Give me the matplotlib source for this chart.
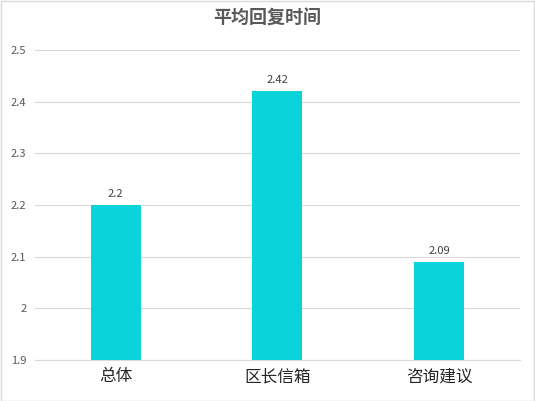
import matplotlib
matplotlib.use("Agg")
import matplotlib.pyplot as plt

plt.rcParams["font.family"] = ["Noto Sans CJK SC", "DejaVu Sans"]

categories = ["总体", "区长信箱", "咨询建议"]
values = [2.2, 2.42, 2.09]
yticks = [1.9, 2, 2.1, 2.2, 2.3, 2.4, 2.5]
ytick_labels = ["1.9", "2", "2.1", "2.2", "2.3", "2.4", "2.5"]

BAR_COLOR = "#0AD3DA"
TEXT_COLOR = "#595959"

fig = plt.figure(figsize=(5.35, 4.01), dpi=100)
ax = fig.add_axes([0.065, 0.102, 0.907, 0.773])

x = range(len(categories))
ax.bar(x, values, width=0.31, color=BAR_COLOR, zorder=3)
for xi, v in zip(x, values):
    ax.text(xi, v + 0.012, f"{v:g}", ha="center", va="bottom",
            fontsize=8, color="#404040")

ax.set_xlim(-0.5, 2.5)
ax.set_ylim(1.9, 2.5)
ax.set_yticks(yticks)
ax.set_yticklabels(ytick_labels, fontsize=8, color=TEXT_COLOR)
ax.set_xticks(list(x))
ax.set_xticklabels(categories, fontsize=12, color="#262626")
ax.tick_params(length=0, pad=6)
ax.grid(axis="y", color="#D9D9D9", linewidth=0.8, zorder=0)
for s in ["top", "right", "left"]:
    ax.spines[s].set_visible(False)
ax.spines["bottom"].set_color("#D9D9D9")

fig.text(0.5, 0.955, "平均回复时间", ha="center", va="center",
         fontsize=13, fontweight="bold", color=TEXT_COLOR)

fig.patches.append(plt.Rectangle((0.001, 0.001), 0.997, 0.997,
                                 transform=fig.transFigure, fill=False,
                                 edgecolor="#D9D9D9", linewidth=1))

fig.savefig("out.png", dpi=100)
